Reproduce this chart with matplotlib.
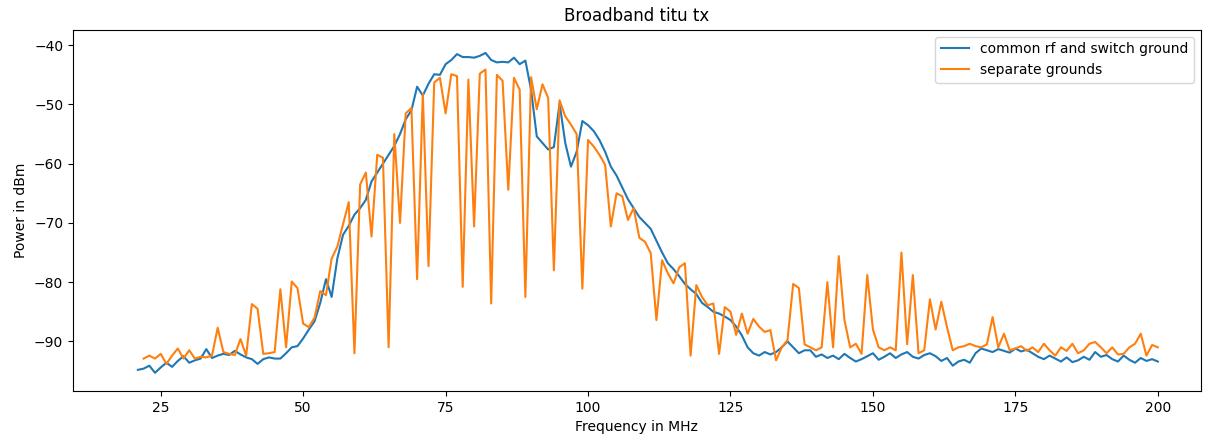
import numpy as np
import matplotlib
matplotlib.use("Agg")
import matplotlib.pyplot as plt

# sweep, 1 MHz steps
freq_common = np.arange(21, 201)
freq_separate = np.arange(22, 201)

# power in dBm, common rf and switch ground
power_common = [
    -94.8, -94.6, -94.1, -95.3, -94.4, -93.6, -94.3, -93.3, -92.5, -93.6,   # 21-30
    -93.2, -92.9, -91.3, -92.8, -92.4, -92.1, -92.3, -91.6, -92.2, -92.7,   # 31-40
    -93.0, -93.8, -93.0, -92.7, -92.9, -92.9, -92.0, -91.0, -90.8, -89.5,   # 41-50
    -88.0, -86.6, -83.5, -79.5, -82.5, -76.0, -72.0, -70.5, -68.6, -67.5,   # 51-60
    -66.1, -63.0, -61.5, -60.0, -58.5, -57.0, -55.0, -52.5, -51.0, -47.0,   # 61-70
    -48.5, -46.5, -44.9, -45.0, -43.2, -42.5, -41.5, -42.0, -42.0, -42.1,   # 71-80
    -41.8, -41.3, -42.5, -42.9, -42.8, -42.9, -42.1, -43.2, -42.6, -47.5,   # 81-90
    -55.4, -56.5, -57.6, -57.2, -49.8, -56.5, -60.5, -58.0, -52.8, -53.5,   # 91-100
    -54.5, -56.0, -58.0, -60.5, -62.0, -64.0, -66.0, -67.5, -69.0, -70.0,   # 101-110
    -71.0, -73.0, -75.0, -76.8, -77.8, -79.0, -80.3, -81.2, -82.0, -83.5,   # 111-120
    -84.2, -85.0, -85.3, -85.8, -86.4, -87.5, -89.0, -91.0, -92.0, -92.4,   # 121-130
    -91.8, -92.2, -91.8, -91.0, -90.0, -91.0, -92.0, -91.5, -91.5, -92.6,   # 131-140
    -92.2, -92.8, -92.4, -93.0, -92.1, -92.8, -93.4, -93.0, -92.5, -92.0,   # 141-150
    -93.1, -92.6, -92.0, -92.8, -92.2, -91.8, -92.6, -92.9, -92.3, -92.0,   # 151-160
    -92.5, -93.3, -92.8, -94.1, -93.4, -93.1, -93.6, -92.0, -91.2, -91.5,   # 161-170
    -91.8, -91.3, -91.6, -91.9, -91.2, -91.7, -91.4, -92.0, -92.6, -93.0,   # 171-180
    -92.4, -92.9, -93.4, -92.7, -93.5, -93.2, -92.6, -93.1, -91.8, -92.6,   # 181-190
    -92.3, -93.0, -93.4, -92.4, -93.1, -93.6, -92.8, -93.3, -93.0, -93.4,   # 191-200
]

# power in dBm, separate grounds
power_separate = [
    -92.9, -92.4, -92.9, -92.1, -93.8, -92.4, -91.2, -92.9, -91.5,          # 22-30
    -92.9, -92.6, -92.7, -92.4, -87.7, -91.8, -92.1, -92.3, -89.6, -92.4,   # 31-40
    -83.7, -84.5, -92.1, -92.0, -91.8, -81.2, -91.0, -79.9, -81.0, -87.0,   # 41-50
    -87.6, -86.0, -81.5, -82.2, -76.0, -74.0, -70.2, -66.5, -92.0, -63.5,   # 51-60
    -61.5, -72.3, -58.5, -59.0, -91.0, -55.0, -70.0, -51.5, -50.6, -79.5,   # 61-70
    -48.2, -77.3, -46.3, -45.5, -51.5, -44.9, -45.2, -80.8, -45.8, -70.6,   # 71-80
    -44.8, -44.1, -83.6, -45.0, -46.0, -64.4, -45.5, -47.5, -82.5, -45.4,   # 81-90
    -50.8, -46.6, -48.9, -78.0, -49.3, -52.0, -53.4, -55.0, -81.1, -56.0,   # 91-100
    -57.1, -58.5, -60.2, -70.6, -65.0, -65.5, -69.5, -67.5, -72.5, -73.2,   # 101-110
    -75.1, -86.4, -76.3, -78.5, -80.2, -77.5, -76.8, -92.4, -80.5, -82.5,   # 111-120
    -83.9, -83.6, -92.1, -84.2, -85.0, -88.9, -85.3, -88.7, -86.2, -87.5,   # 121-130
    -88.4, -88.1, -93.2, -91.0, -89.8, -80.3, -81.0, -90.5, -91.0, -91.5,   # 131-140
    -91.0, -80.0, -91.0, -75.6, -86.4, -91.0, -90.4, -92.1, -78.8, -88.0,   # 141-150
    -91.0, -91.5, -91.0, -91.5, -75.0, -90.5, -78.8, -92.0, -91.5, -82.9,   # 151-160
    -88.0, -83.3, -87.6, -91.5, -91.0, -90.8, -90.4, -90.8, -91.0, -90.5,   # 161-170
    -85.9, -91.0, -88.7, -91.5, -91.2, -90.8, -91.6, -91.0, -91.8, -90.4,   # 171-180
    -91.5, -92.4, -91.0, -91.6, -90.4, -92.0, -91.5, -90.4, -90.1, -91.0,   # 181-190
    -92.0, -91.0, -92.2, -92.1, -91.0, -90.4, -88.7, -92.4, -90.6, -91.0,   # 191-200
]

fig = plt.figure(figsize=(12.06, 4.45), dpi=100)
ax = fig.add_axes([0.0605, 0.121, 0.935, 0.812])

ax.plot(freq_common, power_common, label="common rf and switch ground")
ax.plot(freq_separate, power_separate, label="separate grounds")

ax.set_xlim(9.6, 207.5)
ax.set_ylim(-98.4, -37.4)
ax.set_title("Broadband titu tx")
ax.set_xlabel("Frequency in MHz")
ax.set_ylabel("Power in dBm")
ax.legend(loc="upper right")

fig.savefig("out.png", dpi=100)
